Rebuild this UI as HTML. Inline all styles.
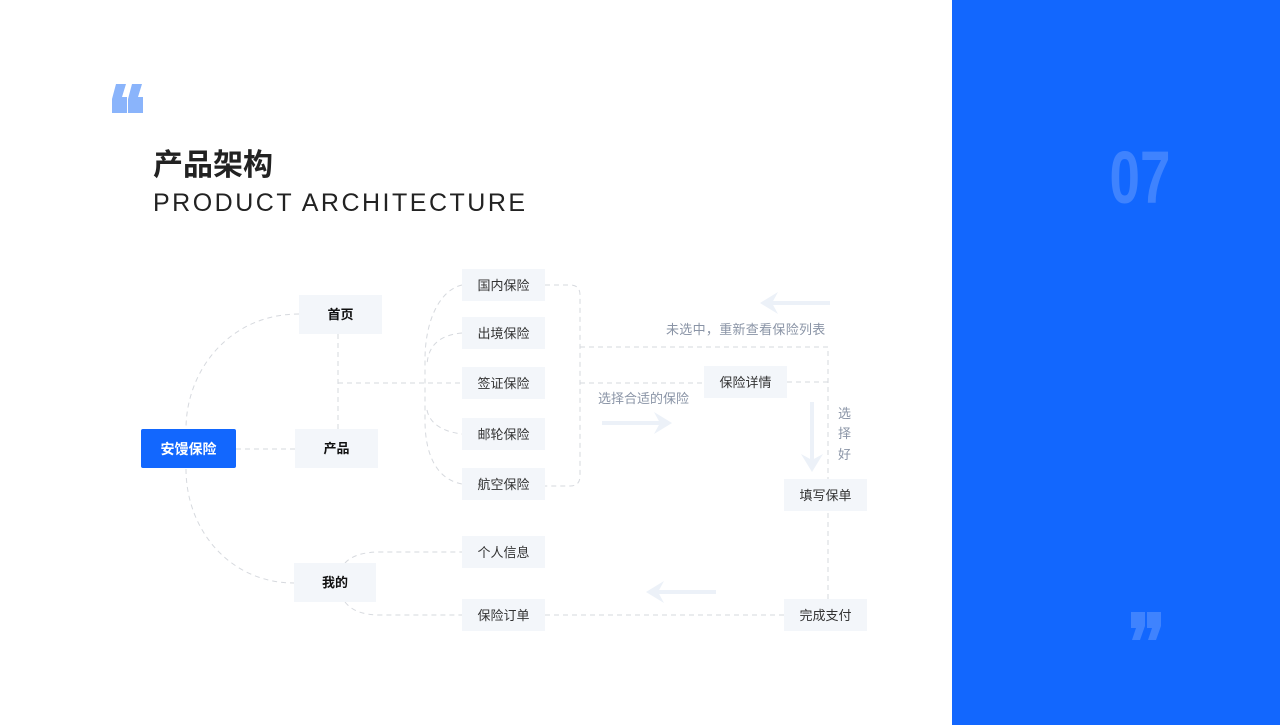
<!DOCTYPE html>
<html><head><meta charset="utf-8"><style>
body{margin:0;width:1280px;height:725px;overflow:hidden;background:#fff;font-family:"Liberation Sans","Noto Sans CJK SC",sans-serif}
</style></head><body>
<svg width="1280" height="725" xmlns="http://www.w3.org/2000/svg" style="position:absolute;left:0;top:0">
<rect x="952" y="0" width="328" height="725" fill="#1267fe"/>
<text x="1140" y="203" text-anchor="middle" font-family="Liberation Sans Narrow, Liberation Sans, sans-serif" font-weight="bold" font-size="74" fill="#3f83fe" transform="translate(1140 0) scale(0.74 1) translate(-1140 0)">07</text>
<g fill="#8ab4fb">
<path d="M116 84h10l-4 13h5v16h-15v-14z M132 84h10l-4 13h5v16h-15v-14z"/>
</g>
<g fill="#3f83fe">
<path d="M1131 612h14v14l-5 14h-8l4-12h-5z M1147 612h14v14l-5 14h-8l4-12h-5z"/>
</g>
<text x="153" y="175" font-size="30" font-weight="bold" fill="#222" font-family="Liberation Sans, Noto Sans CJK SC, sans-serif">产品架构</text>
<text x="153" y="211" font-size="25" fill="#222" letter-spacing="2.5" font-family="Liberation Sans, sans-serif">PRODUCT ARCHITECTURE</text>

<g fill="none" stroke="#d6d9de" stroke-width="1" stroke-dasharray="5 4">
<line x1="236" y1="449" x2="295" y2="449"/>
<path d="M299 314 C230 314 186 370 186 429"/>
<path d="M186 469 C186 530 230 583 294 583"/>
<line x1="338" y1="334" x2="338" y2="429"/>
<line x1="338" y1="383" x2="462" y2="383"/>
<path d="M462 285 C440 290 425 320 425 360 L425 420 C425 460 440 480 462 484"/>
<path d="M462 333 C440 335 428 345 427 365"/>
<path d="M427 410 C430 425 445 432 462 434"/>
<path d="M545 285 H570 Q580 285 580 295 V476 Q580 486 570 486 H545"/>
<path d="M580 347 H828 V600"/>
<line x1="580" y1="383" x2="704" y2="383"/>
<line x1="787" y1="382" x2="828" y2="382"/>
<path d="M345 563 Q355 552 380 552 H462"/>
<path d="M345 602 Q355 615 380 615 H462"/>
<line x1="545" y1="615" x2="784" y2="615"/>
</g>

<g stroke="#ecf1f8" stroke-width="4" fill="none">
<line x1="766" y1="303" x2="830" y2="303"/>
<line x1="602" y1="423" x2="666" y2="423"/>
<line x1="812" y1="402" x2="812" y2="466"/>
<line x1="652" y1="592" x2="716" y2="592"/>
</g>
<g fill="#ecf1f8">
<path d="M760 303 L778 292 L772 303 L778 314Z"/>
<path d="M672 423 L654 412 L660 423 L654 434Z"/>
<path d="M812 472 L801 454 L812 460 L823 454Z"/>
<path d="M646 592 L664 581 L658 592 L664 603Z"/>
</g>

<g fill="#f3f6fa">
<rect x="299" y="295" width="83" height="39"/>
<rect x="295" y="429" width="83" height="39"/>
<rect x="294" y="563" width="82" height="39"/>
<rect x="462" y="269" width="83" height="32"/>
<rect x="462" y="317" width="83" height="32"/>
<rect x="462" y="367" width="83" height="32"/>
<rect x="462" y="418" width="83" height="32"/>
<rect x="462" y="468" width="83" height="32"/>
<rect x="462" y="536" width="83" height="32"/>
<rect x="462" y="599" width="83" height="32"/>
<rect x="704" y="366" width="83" height="32"/>
<rect x="784" y="479" width="83" height="32"/>
<rect x="784" y="599" width="83" height="32"/>
</g>
<rect x="141" y="429" width="95" height="39" rx="2" fill="#1267fe"/>
<g font-size="13" text-anchor="middle" fill="#333" font-family="Liberation Sans, Noto Sans CJK SC, sans-serif">
<text x="188.5" y="454" fill="#fff" font-size="14" font-weight="bold">安馒保险</text>
<text x="340.5" y="319" font-weight="bold" fill="#111">首页</text>
<text x="336.5" y="453" font-weight="bold" fill="#111">产品</text>
<text x="335" y="587" font-weight="bold" fill="#111">我的</text>
<text x="503.5" y="290">国内保险</text>
<text x="503.5" y="338">出境保险</text>
<text x="503.5" y="388">签证保险</text>
<text x="503.5" y="439">邮轮保险</text>
<text x="503.5" y="489">航空保险</text>
<text x="503.5" y="557">个人信息</text>
<text x="503.5" y="620">保险订单</text>
<text x="745.5" y="387">保险详情</text>
<text x="825.5" y="500">填写保单</text>
<text x="825.5" y="620">完成支付</text>
</g>
<g font-size="13" fill="#8a94a6" font-family="Liberation Sans, Noto Sans CJK SC, sans-serif">
<text x="666" y="334" letter-spacing="0.3">未选中，重新查看保险列表</text>
<text x="598" y="403">选择合适的保险</text>
<text x="838" y="418">选</text>
<text x="838" y="438">择</text>
<text x="838" y="459">好</text>
</g>
</svg>
</body></html>
